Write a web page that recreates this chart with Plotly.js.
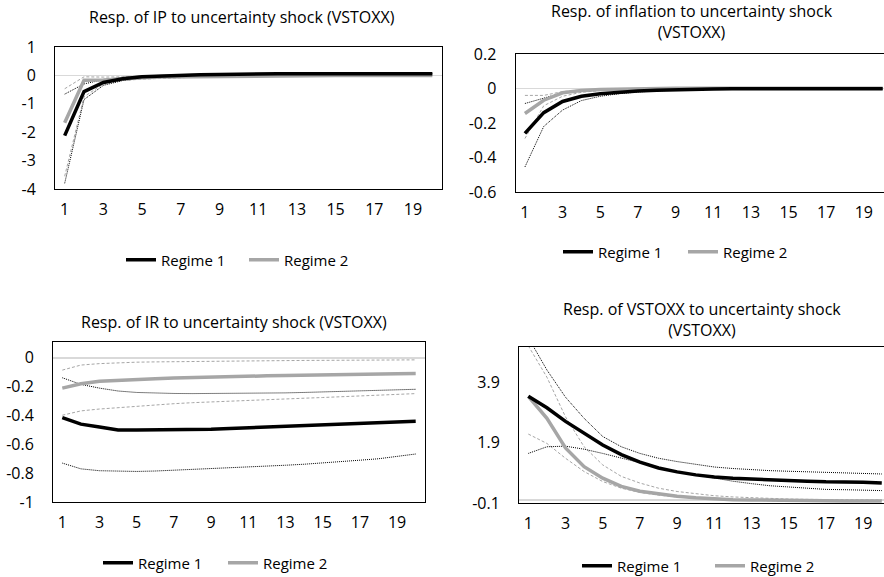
<!DOCTYPE html>
<html>
<head>
<meta charset="utf-8">
<script src="https://cdn.plot.ly/plotly-3.0.1.min.js"></script>
<style>
html, body { margin: 0; padding: 0; overflow: hidden; background: #fff; }
#chart { width: 884px; height: 577px; }
</style>
</head>
<body>
<div id="chart"></div>
<script>
// ---- data ----
const periods = [1,2,3,4,5,6,7,8,9,10,11,12,13,14,15,16,17,18,19,20];
const xTickVals = [1,3,5,7,9,11,13,15,17,19];
const xTickText = ['1','3','5','7','9','11','13','15','17','19'];

const titles = [
  'Resp. of IP to uncertainty shock (VSTOXX)',
  'Resp. of inflation to uncertainty shock<br>(VSTOXX)',
  'Resp. of IR to uncertainty shock (VSTOXX)',
  'Resp. of VSTOXX to uncertainty shock<br>(VSTOXX)'
];
const seriesNames = ['Regime 1', 'Regime 2'];

// Panel 1: IP
const ipR1   = [-2.12,-0.57,-0.25,-0.12,-0.05,-0.02,0.01,0.02,0.03,0.05,0.06,0.06,0.06,0.06,0.06,0.06,0.06,0.06,0.06,0.06];
const ipR2   = [-1.67,-0.17,-0.16,-0.11,-0.08,-0.06,-0.05,-0.04,-0.03,-0.02,-0.01,-0.01,0,0,0,0,0,0,0,0];
const ipR1Lo = [-3.8,-0.85,-0.35,-0.18,-0.1,-0.05,-0.02,0,0.01,0.02,0.03,0.03,0.03,0.03,0.03,0.03,0.03,0.03,0.03,0.03];
const ipR1Hi = [-0.66,-0.3,-0.15,-0.07,-0.02,0.01,0.03,0.04,0.05,0.06,0.07,0.07,0.07,0.07,0.07,0.07,0.07,0.07,0.07,0.07];
const ipR2Lo = [-3.55,-0.75,-0.3,-0.18,-0.13,-0.1,-0.08,-0.06,-0.05,-0.04,-0.03,-0.02,-0.02,-0.01,-0.01,-0.01,-0.01,-0.01,-0.01,-0.01];
const ipR2Hi = [-0.47,-0.05,-0.06,-0.05,-0.04,-0.02,-0.01,0,0.01,0.01,0.01,0.01,0.01,0.01,0.01,0.01,0.01,0.01,0.01,0.01];
const ipTickVals = [-4,-3,-2,-1,0,1];
const ipTickText = ['-4','-3','-2','-1','0','1'];

// Panel 2: inflation
const infR1   = [-0.26,-0.14,-0.075,-0.045,-0.03,-0.02,-0.014,-0.01,-0.006,-0.004,-0.003,-0.002,-0.002,-0.002,-0.002,-0.002,-0.002,-0.002,-0.002,-0.002];
const infR2   = [-0.145,-0.068,-0.025,-0.012,-0.006,-0.003,-0.001,0,0.001,0.001,0.001,0.001,0.001,0.001,0.001,0.001,0.001,0.001,0.001,0.001];
const infR1Lo = [-0.455,-0.22,-0.125,-0.07,-0.045,-0.03,-0.02,-0.013,-0.009,-0.006,-0.005,-0.004,-0.004,-0.004,-0.004,-0.004,-0.004,-0.004,-0.004,-0.004];
const infR1Hi = [-0.087,-0.056,-0.025,-0.015,-0.01,-0.007,-0.004,-0.002,-0.001,0,0,0,0,0,0,0,0,0,0,0];
const infR2Lo = [-0.29,-0.1,-0.045,-0.022,-0.012,-0.007,-0.004,-0.002,-0.001,0,0,0,0,0,0,0,0,0,0,0];
const infR2Hi = [-0.04,-0.04,-0.018,-0.008,-0.004,-0.002,0,0.001,0.002,0.002,0.002,0.002,0.002,0.002,0.002,0.002,0.002,0.002,0.002,0.002];
const infTickVals = [-0.6,-0.4,-0.2,0,0.2];
const infTickText = ['-0.6','-0.4','-0.2','0','0.2'];

// Panel 3: IR
const irR1   = [-0.414,-0.46,-0.48,-0.5,-0.5,-0.5,-0.5,-0.5,-0.495,-0.49,-0.485,-0.48,-0.475,-0.47,-0.465,-0.46,-0.455,-0.45,-0.447,-0.44];
const irR2   = [-0.21,-0.18,-0.163,-0.155,-0.15,-0.145,-0.14,-0.136,-0.132,-0.128,-0.126,-0.125,-0.123,-0.12,-0.118,-0.115,-0.112,-0.11,-0.11,-0.108];
const irR1Lo = [-0.73,-0.77,-0.783,-0.788,-0.788,-0.785,-0.78,-0.775,-0.77,-0.765,-0.758,-0.752,-0.745,-0.738,-0.73,-0.72,-0.71,-0.70,-0.685,-0.667];
const irR1Hi = [-0.138,-0.184,-0.21,-0.23,-0.24,-0.245,-0.247,-0.248,-0.248,-0.247,-0.246,-0.245,-0.243,-0.24,-0.237,-0.234,-0.23,-0.226,-0.222,-0.218];
const irR2Lo = [-0.398,-0.368,-0.355,-0.345,-0.335,-0.326,-0.318,-0.311,-0.305,-0.3,-0.295,-0.29,-0.285,-0.28,-0.275,-0.27,-0.265,-0.26,-0.255,-0.248];
const irR2Hi = [-0.085,-0.05,-0.04,-0.033,-0.03,-0.028,-0.026,-0.025,-0.024,-0.022,-0.021,-0.02,-0.019,-0.018,-0.017,-0.016,-0.016,-0.015,-0.015,-0.014];
const irTickVals = [-1,-0.8,-0.6,-0.4,-0.2,0];
const irTickText = ['-1','-0.8','-0.6','-0.4','-0.2','0'];

// Panel 4: VSTOXX
const vsR1   = [3.43,3.05,2.6,2.2,1.82,1.5,1.25,1.06,0.93,0.83,0.76,0.72,0.69,0.66,0.64,0.62,0.6,0.6,0.59,0.56];
const vsR2   = [3.43,2.7,1.72,1.1,0.72,0.45,0.29,0.2,0.12,0.07,0.03,0.01,0,-0.01,-0.02,-0.02,-0.02,-0.03,-0.03,-0.03];
const vsR1Lo = [1.54,1.76,1.78,1.68,1.54,1.38,1.22,1.08,0.94,0.83,0.72,0.62,0.54,0.47,0.43,0.38,0.35,0.34,0.33,0.31];
const vsR1Hi = [5.37,4.3,3.4,2.7,2.1,1.76,1.54,1.38,1.27,1.17,1.09,1.04,1.0,0.97,0.95,0.93,0.91,0.89,0.88,0.86];
const vsR2Lo = [2.18,1.87,1.38,0.94,0.61,0.39,0.25,0.16,0.1,0.05,0.02,0,-0.02,-0.03,-0.04,-0.05,-0.05,-0.05,-0.05,-0.05];
const vsR2Hi = [5.1,4.06,2.75,1.76,1.16,0.78,0.56,0.39,0.28,0.21,0.14,0.1,0.07,0.05,0.03,0.02,0.01,0.01,0,0];
const vsTickVals = [-0.1,1.9,3.9];
const vsTickText = ['-0.1','1.9','3.9'];

// ---- styling / layout ----
const W = 884, H = 577;
const FONT = '"Open Sans", "Noto Sans", sans-serif';
const FS = 16, LFS = 15;
const BLACK = '#000000', GRAY = '#a6a6a6';

// right-hand panels are cut by the page edge: no right border, x-range ends before 20.5
const panels = [
  {r1: ipR1, r2: ipR2, r1lo: ipR1Lo, r1hi: ipR1Hi, r2lo: ipR2Lo, r2hi: ipR2Hi,
   ytv: ipTickVals, ytt: ipTickText, yr: [-4, 1], xr: [0.5, 20.5], mirrorY: true,
   box: {l: 55, r: 442, t: 47, b: 189}, title: {x: 242, y: 17},
   leg: {x: 121, y: 260, w: 78}},
  {r1: infR1, r2: infR2, r1lo: infR1Lo, r1hi: infR1Hi, r2lo: infR2Lo, r2hi: infR2Hi,
   ytv: infTickVals, ytt: infTickText, yr: [-0.6, 0.2], xr: [0.5, 20.07], mirrorY: false,
   box: {l: 515.5, r: 884, t: 54, b: 192}, title: {x: 692, y: 21},
   leg: {x: 558, y: 252, w: 80}},
  {r1: irR1, r2: irR2, r1lo: irR1Lo, r1hi: irR1Hi, r2lo: irR2Lo, r2hi: irR2Hi,
   ytv: irTickVals, ytt: irTickText, yr: [-1, 0.11], xr: [0.5, 20.5], mirrorY: true,
   box: {l: 53, r: 425, t: 342, b: 502}, title: {x: 234, y: 322},
   leg: {x: 98, y: 563, w: 80}},
  {r1: vsR1, r2: vsR2, r1lo: vsR1Lo, r1hi: vsR1Hi, r2lo: vsR2Lo, r2hi: vsR2Hi,
   ytv: vsTickVals, ytt: vsTickText, yr: [-0.1, 5.06], xr: [0.5, 20.12], mirrorY: false,
   box: {l: 519, r: 884, t: 347, b: 503}, title: {x: 702, y: 319},
   leg: {x: 577, y: 566, w: 88}}
];

const traces = [];
const layout = {
  width: W, height: H,
  margin: {l: 0, r: 0, t: 0, b: 0, pad: 0, autoexpand: false},
  paper_bgcolor: '#ffffff', plot_bgcolor: '#ffffff',
  font: {family: FONT, size: FS, color: '#000'},
  annotations: [],
  showlegend: true
};

panels.forEach((p, i) => {
  const n = i + 1;
  const xa = 'x' + (n === 1 ? '' : n), ya = 'y' + (n === 1 ? '' : n);
  const xk = 'xaxis' + (n === 1 ? '' : n), yk = 'yaxis' + (n === 1 ? '' : n);
  const lg = n === 1 ? 'legend' : 'legend' + n;
  const common = {x: periods, xaxis: xa, yaxis: ya, mode: 'lines', hoverinfo: 'skip', showlegend: false};
  traces.push(Object.assign({}, common, {y: p.r2lo, line: {color: GRAY, width: 1, dash: '3px,2px'}}));
  traces.push(Object.assign({}, common, {y: p.r2hi, line: {color: GRAY, width: 1, dash: '3px,2px'}}));
  traces.push(Object.assign({}, common, {y: p.r1lo, line: {color: BLACK, width: 1, dash: '1px,1px'}}));
  traces.push(Object.assign({}, common, {y: p.r1hi, line: {color: BLACK, width: 1, dash: '1px,1px'}}));
  traces.push(Object.assign({}, common, {y: p.r2, name: seriesNames[1], showlegend: true, legend: lg, legendrank: 2,
    line: {color: GRAY, width: 3.5}}));
  traces.push(Object.assign({}, common, {y: p.r1, name: seriesNames[0], showlegend: true, legend: lg, legendrank: 1,
    line: {color: BLACK, width: 3.5}}));

  layout[xk] = {
    domain: [p.box.l / W, p.box.r / W],
    range: p.xr, anchor: ya, automargin: false,
    tickmode: 'array', tickvals: xTickVals, ticktext: xTickText,
    showgrid: false, zeroline: false,
    showline: true, mirror: true, linecolor: '#000', linewidth: 1,
    ticks: '', ticklabelstandoff: 6,
    tickfont: {family: FONT, size: FS, color: '#000'}, fixedrange: true
  };
  layout[yk] = {
    domain: [1 - p.box.b / H, 1 - p.box.t / H],
    range: p.yr, anchor: xa, automargin: false,
    tickmode: 'array', tickvals: p.ytv, ticktext: p.ytt,
    showgrid: false, zeroline: true, zerolinecolor: '#d9d9d9', zerolinewidth: 1.5,
    showline: true, mirror: p.mirrorY, linecolor: '#000', linewidth: 1,
    ticks: '', ticklabelstandoff: 15,
    tickfont: {family: FONT, size: FS, color: '#000'}, fixedrange: true
  };
  layout[lg] = {
    orientation: 'h', x: p.leg.x / W, y: 1 - p.leg.y / H,
    xanchor: 'left', yanchor: 'middle',
    entrywidth: p.leg.w, entrywidthmode: 'pixels',
    font: {family: FONT, size: LFS, color: '#000'},
    bgcolor: 'rgba(0,0,0,0)', borderwidth: 0, traceorder: 'normal'
  };
  layout.annotations.push({
    text: titles[i], xref: 'paper', yref: 'paper',
    x: p.title.x / W, y: 1 - p.title.y / H,
    xanchor: 'center', yanchor: 'middle', showarrow: false,
    font: {family: FONT, size: FS, color: '#000'}
  });
});

Plotly.newPlot('chart', traces, layout, {staticPlot: true, displayModeBar: false});
</script>
</body>
</html>
